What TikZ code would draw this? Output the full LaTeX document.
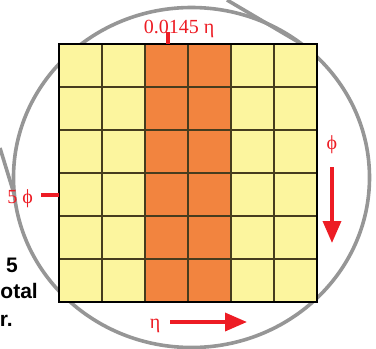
\documentclass[tikz,border=0pt]{standalone}
\usepackage{fontspec}
\setmainfont{Liberation Serif}
\newfontfamily\capfont{Liberation Sans}
\usetikzlibrary{arrows.meta,positioning}
\definecolor{cellyel}{RGB}{252,245,158}
\definecolor{cellorg}{RGB}{242,132,63}
\definecolor{lblred}{RGB}{237,28,36}
\definecolor{zoomgray}{RGB}{150,150,150}
\definecolor{gridline}{RGB}{70,60,30}
\begin{document}
\begin{tikzpicture}[x=1pt,y=-1pt,
  lbl/.style={text=lblred,font=\fontsize{20}{20}\selectfont,inner sep=0pt},
  captext/.style={font=\capfont\bfseries\fontsize{21}{21}\selectfont,inner sep=0pt,anchor=base east},
  tick/.style={draw=lblred,line width=4pt},
  dirarrow/.style={draw=lblred,line width=3.5pt,-{Triangle[width=18pt,length=22pt]}},
  zoomline/.style={draw=zoomgray,line width=3.6pt}]
\useasboundingbox (0,0) rectangle (376,349);
\clip (0,0) rectangle (376,349);
% zoom circle and callout lines
\draw[zoomline] (191.5,177.5) ellipse [x radius=178, y radius=170];
\draw[zoomline] (227,0) -- (300,43);
\draw[zoomline] (0,148) -- (14.4,195);
% 6x6 cells
\fill[cellyel] (59,44) rectangle (317,302);
\fill[cellorg] (145,44) rectangle (231,302);
\foreach \i in {1,...,5} {
  \draw[gridline,line width=1.4pt] (59+43*\i,44) -- (59+43*\i,302);
  \draw[gridline,line width=1.4pt] (59,44+43*\i) -- (317,44+43*\i);
}
\draw[line width=1.6pt] (59,44) rectangle (317,302);
% labels and ticks
\node[lbl,anchor=base] (etaval) at (179,33) {0.0145 η};
\coordinate (etatick) at (168,44);
\draw[tick] (etatick) -- ++(0,-12);
\node[lbl,anchor=base east] (phival) at (33,203) {5 ϕ};
\coordinate (phitick) at (59,195);
\draw[tick] (phitick) -- ++(-18,0);
% directions
\node[lbl] (phidir) at (332,145) {ϕ};
\coordinate (phiA) at (332,167);
\coordinate (phiB) at (332,243);
\draw[dirarrow] (phiA) -- (phiB);
\node[lbl] (etadir) at (155,326) {η};
\coordinate (etaA) at (170,322);
\coordinate (etaB) at (247,322);
\draw[dirarrow] (etaA) -- (etaB);
% caption fragments
\node[captext] (capa) at (18,272) {5};
\node[captext] (capb) at (38,298) {otal};
\node[captext] (capc) at (13,326) {r.};
\end{tikzpicture}
\end{document}
